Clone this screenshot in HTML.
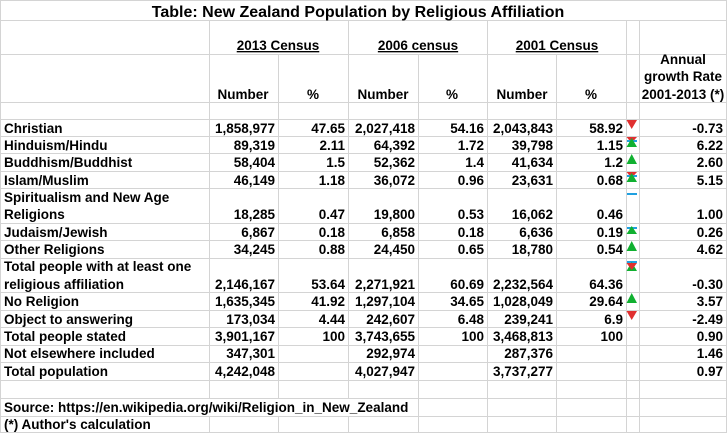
<!DOCTYPE html>
<html><head><meta charset="utf-8"><style>
html,body{margin:0;padding:0;background:#fff;}
svg{display:block;font-family:"Liberation Sans",Arial,sans-serif;font-weight:bold;}
</style></head><body>
<svg width="727" height="433" viewBox="0 0 727 433" xmlns="http://www.w3.org/2000/svg">
<rect width="727" height="433" fill="#fff"/>
<g stroke="#d4d4d4" stroke-width="1" shape-rendering="crispEdges">
<line x1="0.5" y1="0" x2="0.5" y2="433"/>
<line x1="0" y1="0.5" x2="727" y2="0.5"/>
<line x1="726.5" y1="0" x2="726.5" y2="433"/>
<line x1="0" y1="20.5" x2="727" y2="20.5"/>
<line x1="0" y1="54.5" x2="727" y2="54.5"/>
<line x1="0" y1="102.5" x2="727" y2="102.5"/>
<line x1="0" y1="119.5" x2="727" y2="119.5"/>
<line x1="0" y1="136.5" x2="727" y2="136.5"/>
<line x1="0" y1="153.5" x2="727" y2="153.5"/>
<line x1="0" y1="171.5" x2="727" y2="171.5"/>
<line x1="0" y1="188.5" x2="727" y2="188.5"/>
<line x1="0" y1="223.5" x2="727" y2="223.5"/>
<line x1="0" y1="240.5" x2="727" y2="240.5"/>
<line x1="0" y1="258.5" x2="727" y2="258.5"/>
<line x1="0" y1="292.5" x2="727" y2="292.5"/>
<line x1="0" y1="310.5" x2="727" y2="310.5"/>
<line x1="0" y1="327.5" x2="727" y2="327.5"/>
<line x1="0" y1="345.5" x2="727" y2="345.5"/>
<line x1="0" y1="362.5" x2="727" y2="362.5"/>
<line x1="0" y1="380.5" x2="727" y2="380.5"/>
<line x1="0" y1="398.5" x2="727" y2="398.5"/>
<line x1="0" y1="416.5" x2="727" y2="416.5"/>
<line x1="0" y1="432.5" x2="727" y2="432.5"/>
<line x1="209.5" y1="20" x2="209.5" y2="398"/>
<line x1="209.5" y1="416" x2="209.5" y2="433"/>
<line x1="278.5" y1="54" x2="278.5" y2="398"/>
<line x1="278.5" y1="416" x2="278.5" y2="433"/>
<line x1="348.5" y1="20" x2="348.5" y2="398"/>
<line x1="348.5" y1="416" x2="348.5" y2="433"/>
<line x1="418.5" y1="54" x2="418.5" y2="433"/>
<line x1="487.5" y1="20" x2="487.5" y2="433"/>
<line x1="556.5" y1="54" x2="556.5" y2="433"/>
<line x1="626.5" y1="20" x2="626.5" y2="433"/>
<line x1="639.5" y1="20" x2="639.5" y2="433"/>
</g>
<rect x="1" y="399" width="416" height="17" fill="#fff"/>
<g font-size="13.5" fill="#000">
<text x="358" y="17" text-anchor="middle" font-size="16">Table: New Zealand Population by Religious Affiliation</text>
<g text-decoration="underline" text-anchor="middle">
<text x="278" y="50">2013 Census</text>
<text x="418" y="50">2006 census</text>
<text x="557" y="50">2001 Census</text>
</g>
<g text-anchor="middle">
<text x="243" y="99">Number</text>
<text x="313" y="99">%</text>
<text x="383" y="99">Number</text>
<text x="452" y="99">%</text>
<text x="522" y="99">Number</text>
<text x="591" y="99">%</text>
<text x="683" y="64">Annual</text>
<text x="683" y="81">growth Rate</text>
<text x="683" y="99">2001-2013 (*)</text>
</g>
<g>
<text x="4" y="133">Christian</text>
<text x="4" y="150">Hinduism/Hindu</text>
<text x="4" y="167">Buddhism/Buddhist</text>
<text x="4" y="185">Islam/Muslim</text>
<text x="4" y="202">Spiritualism and New Age</text>
<text x="4" y="219">Religions</text>
<text x="4" y="237">Judaism/Jewish</text>
<text x="4" y="254">Other Religions</text>
<text x="4" y="271">Total people with at least one</text>
<text x="4" y="289">religious affiliation</text>
<text x="4" y="306">No Religion</text>
<text x="4" y="324">Object to answering</text>
<text x="4" y="341">Total people stated</text>
<text x="4" y="358">Not elsewhere included</text>
<text x="4" y="376">Total population</text>
<text x="4" y="412">Source: https://en.wikipedia.org/wiki/Religion_in_New_Zealand</text>
<text x="4" y="429">(*) Author's calculation</text>
</g>
<g text-anchor="end">
<text x="275" y="133">1,858,977</text><text x="345" y="133">47.65</text><text x="415" y="133">2,027,418</text><text x="484" y="133">54.16</text><text x="553" y="133">2,043,843</text><text x="623" y="133">58.92</text><text x="723" y="133">-0.73</text>
<text x="275" y="150">89,319</text><text x="345" y="150">2.11</text><text x="415" y="150">64,392</text><text x="484" y="150">1.72</text><text x="553" y="150">39,798</text><text x="623" y="150">1.15</text><text x="723" y="150">6.22</text>
<text x="275" y="167">58,404</text><text x="345" y="167">1.5</text><text x="415" y="167">52,362</text><text x="484" y="167">1.4</text><text x="553" y="167">41,634</text><text x="623" y="167">1.2</text><text x="723" y="167">2.60</text>
<text x="275" y="185">46,149</text><text x="345" y="185">1.18</text><text x="415" y="185">36,072</text><text x="484" y="185">0.96</text><text x="553" y="185">23,631</text><text x="623" y="185">0.68</text><text x="723" y="185">5.15</text>
<text x="275" y="219">18,285</text><text x="345" y="219">0.47</text><text x="415" y="219">19,800</text><text x="484" y="219">0.53</text><text x="553" y="219">16,062</text><text x="623" y="219">0.46</text><text x="723" y="219">1.00</text>
<text x="275" y="237">6,867</text><text x="345" y="237">0.18</text><text x="415" y="237">6,858</text><text x="484" y="237">0.18</text><text x="553" y="237">6,636</text><text x="623" y="237">0.19</text><text x="723" y="237">0.26</text>
<text x="275" y="254">34,245</text><text x="345" y="254">0.88</text><text x="415" y="254">24,450</text><text x="484" y="254">0.65</text><text x="553" y="254">18,780</text><text x="623" y="254">0.54</text><text x="723" y="254">4.62</text>
<text x="275" y="289">2,146,167</text><text x="345" y="289">53.64</text><text x="415" y="289">2,271,921</text><text x="484" y="289">60.69</text><text x="553" y="289">2,232,564</text><text x="623" y="289">64.36</text><text x="723" y="289">-0.30</text>
<text x="275" y="306">1,635,345</text><text x="345" y="306">41.92</text><text x="415" y="306">1,297,104</text><text x="484" y="306">34.65</text><text x="553" y="306">1,028,049</text><text x="623" y="306">29.64</text><text x="723" y="306">3.57</text>
<text x="275" y="324">173,034</text><text x="345" y="324">4.44</text><text x="415" y="324">242,607</text><text x="484" y="324">6.48</text><text x="553" y="324">239,241</text><text x="623" y="324">6.9</text><text x="723" y="324">-2.49</text>
<text x="275" y="341">3,901,167</text><text x="345" y="341">100</text><text x="415" y="341">3,743,655</text><text x="484" y="341">100</text><text x="553" y="341">3,468,813</text><text x="623" y="341">100</text><text x="723" y="341">0.90</text>
<text x="275" y="358">347,301</text><text x="415" y="358">292,974</text><text x="553" y="358">287,376</text><text x="723" y="358">1.46</text>
<text x="275" y="376">4,242,048</text><text x="415" y="376">4,027,947</text><text x="553" y="376">3,737,277</text><text x="723" y="376">0.97</text>
</g>
</g>
<g>
<polygon points="626.5,120 637,120 631.7,129" fill="#e03030"/>
<polygon points="626.5,137 637,137 631.7,143" fill="#e03030"/>
<rect x="627" y="140" width="10" height="2" fill="#20a0e0"/>
<polygon points="631.7,138 637,147 626.5,147" fill="#10b030"/>
<polygon points="631.7,154 637,164 626.5,164" fill="#10b030"/>
<polygon points="626.5,172 637,172 631.7,178" fill="#e03030"/>
<rect x="627" y="175" width="10" height="2" fill="#20a0e0"/>
<polygon points="631.7,173 637,182 626.5,182" fill="#10b030"/>
<rect x="627" y="193" width="10" height="2" fill="#20a0e0"/>
<rect x="627" y="227" width="10" height="2" fill="#20a0e0"/>
<polygon points="631.7,226 637,234 626.5,234" fill="#10b030"/>
<polygon points="631.7,241 637,251 626.5,251" fill="#10b030"/>
<rect x="627" y="261" width="10" height="2" fill="#20a0e0"/>
<polygon points="631.7,262 637,271 626.5,271" fill="#10b030"/>
<polygon points="626.5,263 637,263 631.7,270" fill="#e03030"/>
<polygon points="631.7,293 637,303 626.5,303" fill="#10b030"/>
<polygon points="626.5,311 637,311 631.7,320" fill="#e03030"/>
</g>
</svg>
</body></html>
